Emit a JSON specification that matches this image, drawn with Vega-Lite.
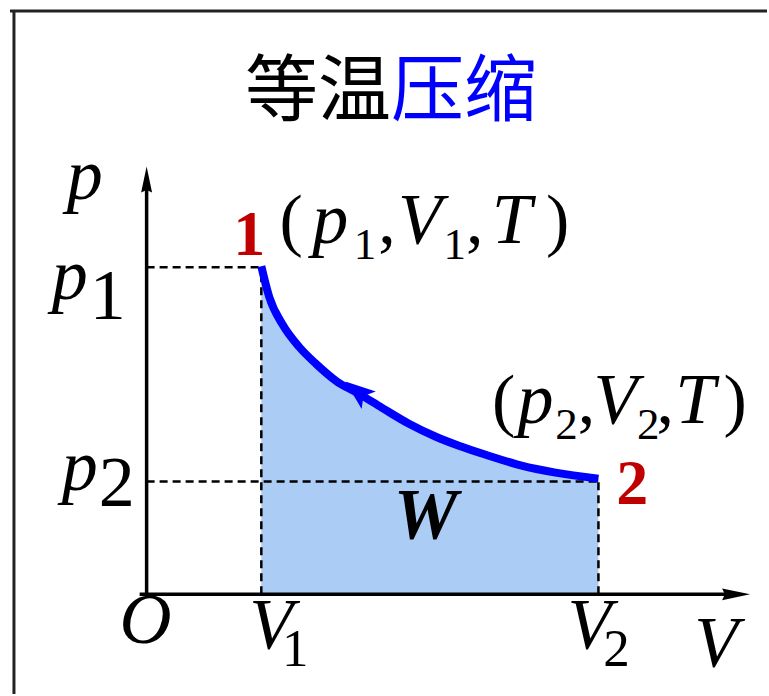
{
  "$schema": "https://vega.github.io/schema/vega-lite/v6.json",
  "width": 769,
  "height": 696,
  "autosize": {"type": "fit", "contains": "padding"},
  "padding": 0,
  "background": "white",
  "config": {"view": {"stroke": null}},
  "datasets": {
    "curve": [
      {"V": 1.15, "p": 3.29},
      {"V": 1.23, "p": 2.98},
      {"V": 1.36, "p": 2.71},
      {"V": 1.53, "p": 2.48},
      {"V": 1.70, "p": 2.31},
      {"V": 1.90, "p": 2.14},
      {"V": 2.13, "p": 2.01},
      {"V": 2.36, "p": 1.87},
      {"V": 2.63, "p": 1.71},
      {"V": 2.90, "p": 1.58},
      {"V": 3.13, "p": 1.49},
      {"V": 3.43, "p": 1.39},
      {"V": 3.76, "p": 1.29},
      {"V": 4.10, "p": 1.22},
      {"V": 4.53, "p": 1.16}
    ],
    "dashed": [
      {"V": 0, "p": 3.28, "Vend": 1.15, "pend": 3.28},
      {"V": 1.15, "p": 0, "Vend": 1.15, "pend": 3.28},
      {"V": 0, "p": 1.13, "Vend": 4.53, "pend": 1.13},
      {"V": 4.53, "p": 0, "Vend": 4.53, "pend": 1.13}
    ],
    "axes": [
      {"V": 0, "p": -0.02, "Vend": 0, "pend": 4.12},
      {"V": -0.07, "p": 0, "Vend": 5.82, "pend": 0}
    ],
    "frame": [
      {"V": -1.37, "p": 5.85, "Vend": 6.22, "pend": 5.85},
      {"V": -1.33, "p": 5.86, "Vend": -1.33, "pend": -1.0}
    ],
    "italic": [
      {"t": "p", "V": -0.62, "p": 3.96},
      {"t": "p", "V": -0.77, "p": 2.96},
      {"t": "p", "V": -0.67, "p": 1.05},
      {"t": "O", "V": -0.01, "p": -0.49},
      {"t": "V", "V": 1.25, "p": -0.54},
      {"t": "V", "V": 4.44, "p": -0.54},
      {"t": "V", "V": 5.71, "p": -0.72},
      {"t": "p", "V": 1.84, "p": 3.52},
      {"t": "V", "V": 2.74, "p": 3.52},
      {"t": "T", "V": 3.66, "p": 3.52},
      {"t": "p", "V": 3.90, "p": 1.72},
      {"t": "V", "V": 4.70, "p": 1.72},
      {"t": "T", "V": 5.50, "p": 1.72}
    ],
    "subBig": [
      {"t": "1", "V": -0.39, "p": 2.76},
      {"t": "2", "V": -0.30, "p": 0.89}
    ],
    "subMid": [
      {"t": "1", "V": 1.49, "p": -0.72},
      {"t": "2", "V": 4.71, "p": -0.72}
    ],
    "subSmall": [
      {"t": "1", "V": 2.19, "p": 3.36},
      {"t": "1", "V": 3.09, "p": 3.36},
      {"t": "2", "V": 4.21, "p": 1.56},
      {"t": "2", "V": 5.03, "p": 1.56}
    ],
    "punct": [
      {"t": "(", "V": 1.45, "p": 3.52},
      {"t": ",", "V": 2.41, "p": 3.52},
      {"t": ",", "V": 3.29, "p": 3.52},
      {"t": ")", "V": 4.12, "p": 3.52},
      {"t": "(", "V": 3.58, "p": 1.72},
      {"t": ",", "V": 4.41, "p": 1.72},
      {"t": ",", "V": 5.20, "p": 1.72},
      {"t": ")", "V": 5.90, "p": 1.72}
    ],
    "states": [
      {"t": "1", "V": 1.03, "p": 3.40},
      {"t": "2", "V": 4.87, "p": 0.91}
    ],
    "work": [{"t": "W", "V": 2.80, "p": 0.56}],
    "titleBlack": [{"t": "等温", "V": 2.45, "p": 4.81}],
    "titleBlue": [{"t": "压缩", "V": 2.45, "p": 4.81}],
    "vArrow": [{"V": 0, "p": 4.16}],
    "hArrow": [{"V": 5.91, "p": 0}],
    "cArrow": [{"V": 2.11, "p": 2.04}]
  },
  "encoding": {
    "x": {"field": "V", "type": "quantitative", "axis": null, "scale": {"domain": [-1.47, 6.22], "nice": false, "zero": false}},
    "y": {"field": "p", "type": "quantitative", "axis": null, "scale": {"domain": [-1.0, 5.96], "nice": false, "zero": false}}
  },
  "layer": [
    {
      "data": {"name": "curve"},
      "mark": {"type": "area", "interpolate": "monotone", "color": "#abcdf5", "opacity": 1},
      "encoding": {"y2": {"datum": 0}}
    },
    {
      "data": {"name": "frame"},
      "mark": {"type": "rule", "color": "#222222", "strokeWidth": 3},
      "encoding": {"x2": {"field": "Vend"}, "y2": {"field": "pend"}}
    },
    {
      "data": {"name": "dashed"},
      "mark": {"type": "rule", "color": "black", "strokeWidth": 2.5, "strokeDash": [8, 5]},
      "encoding": {"x2": {"field": "Vend"}, "y2": {"field": "pend"}}
    },
    {
      "data": {"name": "axes"},
      "mark": {"type": "rule", "color": "black", "strokeWidth": 3.5},
      "encoding": {"x2": {"field": "Vend"}, "y2": {"field": "pend"}}
    },
    {
      "data": {"name": "vArrow"},
      "mark": {"type": "point", "shape": "M0,-1L0.42,1L0,0.8L-0.42,1Z", "size": 676, "filled": true, "color": "black", "opacity": 1, "angle": 0}
    },
    {
      "data": {"name": "hArrow"},
      "mark": {"type": "point", "shape": "M0,-1L0.42,1L0,0.8L-0.42,1Z", "size": 784, "filled": true, "color": "black", "opacity": 1, "angle": 90}
    },
    {
      "data": {"name": "curve"},
      "mark": {"type": "line", "interpolate": "monotone", "color": "#0000ff", "strokeWidth": 8, "strokeCap": "butt"}
    },
    {
      "data": {"name": "cArrow"},
      "mark": {"type": "point", "shape": "M0,-1L0.75,1L0,0.55L-0.75,1Z", "size": 900, "filled": true, "color": "#0000ff", "opacity": 1, "angle": -51}
    },
    {
      "data": {"name": "italic"},
      "mark": {"type": "text", "font": "Liberation Serif", "fontStyle": "italic", "fontSize": 72, "align": "center", "baseline": "alphabetic", "color": "black"},
      "encoding": {"text": {"field": "t"}}
    },
    {
      "data": {"name": "subBig"},
      "mark": {"type": "text", "font": "Liberation Serif", "fontSize": 72, "align": "center", "baseline": "alphabetic", "color": "black"},
      "encoding": {"text": {"field": "t"}}
    },
    {
      "data": {"name": "subMid"},
      "mark": {"type": "text", "font": "Liberation Serif", "fontSize": 53, "align": "center", "baseline": "alphabetic", "color": "black"},
      "encoding": {"text": {"field": "t"}}
    },
    {
      "data": {"name": "subSmall"},
      "mark": {"type": "text", "font": "Liberation Serif", "fontSize": 45, "align": "center", "baseline": "alphabetic", "color": "black"},
      "encoding": {"text": {"field": "t"}}
    },
    {
      "data": {"name": "punct"},
      "mark": {"type": "text", "font": "Liberation Serif", "fontSize": 70, "align": "center", "baseline": "alphabetic", "color": "black"},
      "encoding": {"text": {"field": "t"}}
    },
    {
      "data": {"name": "states"},
      "mark": {"type": "text", "font": "Liberation Serif", "fontWeight": "bold", "fontSize": 64, "align": "center", "baseline": "alphabetic", "color": "#c00000"},
      "encoding": {"text": {"field": "t"}}
    },
    {
      "data": {"name": "work"},
      "mark": {"type": "text", "font": "Liberation Serif", "fontWeight": "bold", "fontStyle": "italic", "fontSize": 72, "align": "center", "baseline": "alphabetic", "color": "black"},
      "encoding": {"text": {"field": "t"}}
    },
    {
      "data": {"name": "titleBlack"},
      "mark": {"type": "text", "font": "Noto Sans CJK SC", "fontSize": 73, "align": "right", "baseline": "alphabetic", "color": "black"},
      "encoding": {"text": {"field": "t"}}
    },
    {
      "data": {"name": "titleBlue"},
      "mark": {"type": "text", "font": "Noto Sans CJK SC", "fontSize": 73, "align": "left", "baseline": "alphabetic", "color": "#0000ff"},
      "encoding": {"text": {"field": "t"}}
    }
  ]
}
